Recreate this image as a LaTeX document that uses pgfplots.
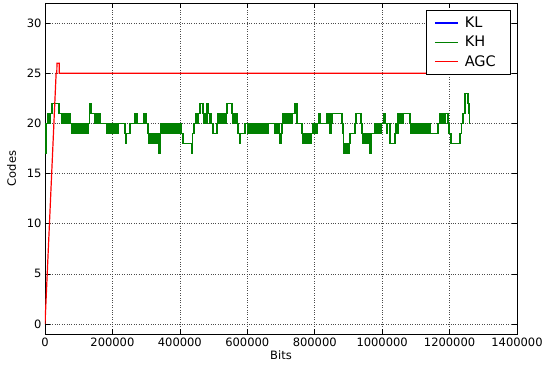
\documentclass[border=0pt]{standalone}
\usepackage{fontspec}
\setmainfont{DejaVu Sans}
\usepackage{pgfplots}
\usepackage{pgfplotstable}
\pgfplotsset{compat=1.18}

\definecolor{klblue}{RGB}{0,0,255}
\definecolor{khgreen}{RGB}{0,128,0}
\definecolor{agcred}{RGB}{255,0,0}

% code level per position, position in kbit (step data, value held until next row)
\pgfplotstableread{
kbit code
0 17
3 20
7 21
11 20
15 21
21 22
42 21
50 20
54 21
58 20
63 21
67 20
71 21
74 20
80 19
84 20
87 19
91 20
95 19
98 20
102 19
106 20
109 19
113 20
117 19
120 20
124 19
127 20
132 21
134 22
138 21
148 20
152 21
156 20
160 21
164 20
184 19
188 20
191 19
195 20
199 19
203 20
206 19
210 20
214 19
217 20
237 19
239 18
242 19
252 20
267 21
273 20
294 21
300 20
305 19
308 18
312 19
316 18
320 19
324 18
328 19
332 18
335 19
338 17
341 19
344 20
348 19
352 20
356 19
360 20
364 19
368 20
372 19
376 20
380 19
384 20
388 19
392 20
396 19
400 20
404 19
409 18
434 17
438 19
442 20
446 21
450 20
454 21
460 22
469 21
472 20
475 21
478 20
481 22
485 21
488 20
491 21
494 20
498 19
510 20
513 21
516 20
519 21
522 20
525 21
528 20
531 21
534 20
537 21
540 22
555 21
558 20
561 21
564 20
567 21
570 20
572 19
577 18
580 19
593 20
602 19
605 20
609 19
612 20
616 19
619 20
623 19
626 20
630 19
633 20
637 19
640 20
644 19
647 20
651 19
654 20
658 19
661 20
682 19
685 20
688 19
691 20
694 19
697 18
700 19
703 20
706 21
710 20
713 21
717 20
720 21
724 20
727 21
731 20
734 21
742 22
748 20
762 19
765 18
769 19
772 18
776 19
779 18
783 19
786 18
790 19
795 20
798 19
801 20
804 19
807 20
811 21
816 20
837 21
840 20
843 21
845 19
848 20
851 21
881 20
884 19
886 17
889 18
892 17
895 18
898 17
901 18
905 19
919 20
922 21
937 20
940 19
943 18
947 19
950 18
954 19
957 18
961 19
964 17
967 19
979 20
982 19
985 20
988 19
991 20
995 19
998 20
1005 21
1010 20
1013 19
1016 20
1023 18
1038 19
1041 20
1044 19
1047 21
1053 20
1056 21
1059 20
1062 21
1083 20
1086 19
1089 20
1092 19
1096 20
1099 19
1103 20
1106 19
1110 20
1113 19
1117 20
1120 19
1124 20
1127 19
1131 20
1135 19
1139 20
1142 19
1166 20
1172 21
1176 20
1180 21
1184 20
1188 21
1195 20
1199 19
1204 18
1231 19
1235 20
1240 21
1246 23
1255 22
1257 21
1259 20
1261 20
}\khdata

\pgfplotstableread{
kbit code
0 0
33 25
35 25
35.5 26
42 26
42.5 25
1261 25
}\agcdata

\begin{document}
\begin{tikzpicture}
\begin{axis}[
    scale only axis, width=472pt, height=331pt,
    xmin=0, xmax=1400000, ymin=-1, ymax=32,
    xtick={0,200000,...,1400000}, ytick={0,5,...,30},
    scaled ticks=false,
    /pgf/number format/.cd, fixed, set thousands separator={}, assume math mode=true,
    /pgfplots/.cd,
    tick pos=both, tick align=inside, major tick length=5pt,
    tick style={black, line width=0.6pt},
    axis line style={black, line width=0.9pt},
    grid=major, grid style={black!70, dotted, line width=0.6pt},
    ticklabel style={font=\fontsize{11.5}{13}\selectfont},
    label style={font=\fontsize{11.5}{13}\selectfont},
    xlabel={Bits}, ylabel={Codes},
    xlabel style={yshift=2pt}, ylabel style={yshift=4pt},
    legend cell align=left,
    legend image code/.code={\draw[#1, line width=1.6pt] (0pt,0pt) -- (23pt,0pt);},
    legend style={at={(1,1)}, anchor=north east, xshift=-7pt, yshift=-7pt,
        inner xsep=8pt, inner ysep=5pt,
        row sep=3pt, font=\fontsize{14.5}{17}\selectfont,
        nodes={inner xsep=6pt}},
]
\addplot[const plot, color=klblue, line width=1.5pt] table[x expr=\thisrow{kbit}*1000, y=code] {\khdata};
\addlegendentry{KL}
\addplot[const plot, color=khgreen, line width=1.5pt] table[x expr=\thisrow{kbit}*1000, y=code] {\khdata};
\addlegendentry{KH}
\addplot[color=agcred, line width=1.2pt] table[x expr=\thisrow{kbit}*1000, y=code] {\agcdata};
\addlegendentry{AGC}
\end{axis}
\pgfresetboundingbox
\path ([shift={(-45pt,-32pt)}]current axis.south west) rectangle ([shift={(28pt,3pt)}]current axis.north east);
\end{tikzpicture}
\end{document}
